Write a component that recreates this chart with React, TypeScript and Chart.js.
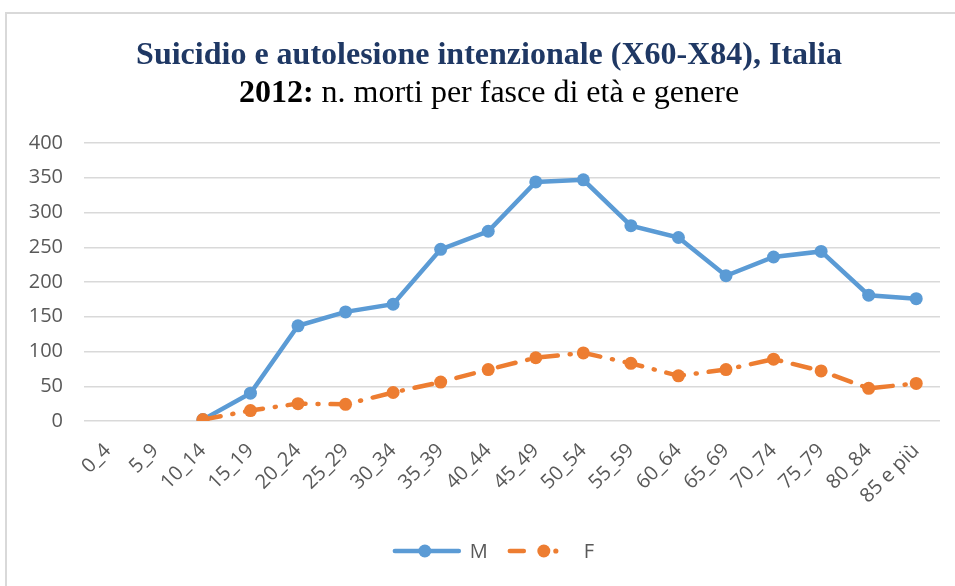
import React, { useEffect, useRef } from "react";
import { Chart, registerables } from "chart.js";

Chart.register(...registerables);

const categories = ["0_4", "5_9", "10_14", "15_19", "20_24", "25_29", "30_34", "35_39", "40_44", "45_49", "50_54", "55_59", "60_64", "65_69", "70_74", "75_79", "80_84", "85 e più"];
const maschi = [null, null, 2, 40, 137, 157, 168, 247, 273, 344, 347, 281, 264, 209, 236, 244, 181, 176];
const femmine = [null, null, 2, 15, 25, 24, 41, 56, 74, 91, 98, 83, 65, 74, 89, 72, 47, 54];
const yTicks = [0, 50, 100, 150, 200, 250, 300, 350, 400];
const seriesNames = ["M", "F"];
const titleLine1 = "Suicidio e autolesione intenzionale (X60-X84), Italia";
const titleBold = "2012:";
const titleRest = " n. morti per fasce di età e genere";

const BLUE = "#5B9BD5";
const ORANGE = "#ED7D31";
const DASH = [18, 12, 1, 12];

function drawIcon(g: CanvasRenderingContext2D, kind: number, x: number, y: number) {
  g.save();
  g.lineCap = "round";
  g.lineWidth = 4.5;
  if (kind === 0) {
    g.strokeStyle = BLUE;
    g.fillStyle = BLUE;
    g.beginPath();
    g.moveTo(x + 3, y);
    g.lineTo(x + 67, y);
    g.stroke();
    g.beginPath();
    g.arc(x + 33, y, 6.5, 0, Math.PI * 2);
    g.fill();
  } else {
    g.strokeStyle = ORANGE;
    g.fillStyle = ORANGE;
    g.beginPath();
    g.moveTo(x + 4, y);
    g.lineTo(x + 18, y);
    g.stroke();
    g.beginPath();
    g.arc(x + 38, y, 6.5, 0, Math.PI * 2);
    g.fill();
    g.beginPath();
    g.arc(x + 50, y, 2.6, 0, Math.PI * 2);
    g.fill();
  }
  g.restore();
}

const titlePlugin = {
  id: "twoLineTitle",
  afterDraw(chart: any) {
    const ctx = chart.ctx as CanvasRenderingContext2D;
    const cx = 489;
    ctx.save();
    ctx.textBaseline = "alphabetic";
    ctx.textAlign = "left";
    ctx.font = "bold 32px 'Liberation Serif'";
    ctx.fillStyle = "#1F3864";
    const w1 = ctx.measureText(titleLine1).width;
    ctx.fillText(titleLine1, cx - w1 / 2, 64);
    ctx.font = "bold 32px 'Liberation Serif'";
    const wb = ctx.measureText(titleBold).width;
    ctx.font = "32px 'Liberation Serif'";
    const wr = ctx.measureText(titleRest).width;
    const x0 = cx - (wb + wr) / 2;
    ctx.fillStyle = "#000000";
    ctx.font = "bold 32px 'Liberation Serif'";
    ctx.fillText(titleBold, x0, 102);
    ctx.font = "32px 'Liberation Serif'";
    ctx.fillText(titleRest, x0 + wb, 102);
    ctx.restore();
  },
};

const legendPlugin = {
  id: "lineLegend",
  afterDraw(chart: any) {
    const ctx = chart.ctx as CanvasRenderingContext2D;
    const names: string[] = chart.data.datasets.map((d: any) => d.label);
    ctx.save();
    ctx.font = "20px 'Open Sans'";
    ctx.fillStyle = "#595959";
    ctx.textBaseline = "middle";
    ctx.textAlign = "left";
    const iconW = 70;
    const textGap = 8;
    const itemGap = 18;
    const widths = names.map((n) => ctx.measureText(n).width);
    const total = widths.reduce((a, w) => a + iconW + textGap + w, 0) + itemGap * (names.length - 1);
    let x = 493 - total / 2;
    const y = chart.chartArea.bottom + 130;
    names.forEach((n, i) => {
      drawIcon(ctx, i, x, y);
      ctx.fillText(n, x + iconW + textGap, y + 1);
      x += iconW + textGap + widths[i] + itemGap;
    });
    ctx.restore();
  },
};

export default function App() {
  const ref = useRef<HTMLCanvasElement>(null);
  useEffect(() => {
    if (!ref.current) return;
    const chart = new Chart(ref.current, {
      type: "line",
      data: {
        labels: categories,
        datasets: [
          {
            label: seriesNames[0],
            data: maschi,
            borderColor: BLUE,
            backgroundColor: BLUE,
            borderWidth: 4.5,
            pointRadius: 6.5,
            pointHoverRadius: 6.5,
            pointBorderWidth: 0,
            tension: 0,
            order: 2,
          },
          {
            label: seriesNames[1],
            data: femmine,
            borderColor: ORANGE,
            backgroundColor: ORANGE,
            borderWidth: 4.5,
            borderDash: DASH,
            borderCapStyle: "round",
            pointRadius: 6.5,
            pointHoverRadius: 6.5,
            pointBorderWidth: 0,
            tension: 0,
            order: 1,
          },
        ],
      },
      options: {
        animation: false,
        responsive: false,
        maintainAspectRatio: false,
        layout: { padding: { top: 143, left: 0, right: 15, bottom: 54 } },
        plugins: {
          title: { display: false },
          tooltip: { enabled: false },
          legend: { display: false },
        },
        scales: {
          x: {
            grid: { display: false, drawTicks: false },
            border: { display: false },
            offset: true,
            afterFit: (s: any) => {
              s.height = 111;
            },
            ticks: {
              minRotation: 45,
              maxRotation: 45,
              autoSkip: false,
              padding: 18,
              color: "#595959",
              font: { family: "'Open Sans'", size: 20 },
            },
          },
          y: {
            min: 0,
            max: 400,
            afterFit: (s: any) => {
              s.width = 84;
            },
            afterBuildTicks: (s: any) => {
              s.ticks = yTicks.map((v) => ({ value: v }));
            },
            grid: { color: "#D9D9D9", lineWidth: 1.5, drawTicks: false },
            border: { display: false },
            ticks: {
              padding: 21,
              color: "#595959",
              font: { family: "'Open Sans'", size: 20 },
            },
          },
        },
      },
      plugins: [titlePlugin, legendPlugin],
    });
    return () => chart.destroy();
  }, []);
  return (
    <div style={{ position: "absolute", left: 0, top: 0, width: 955, height: 586, background: "#fff", overflow: "hidden" }}>
      <div
        style={{
          position: "absolute",
          left: 5,
          top: 12,
          width: 1000,
          height: 1000,
          borderTop: "2px solid #D9D9D9",
          borderLeft: "2px solid #D9D9D9",
        }}
      />
      <canvas ref={ref} width={955} height={586} style={{ position: "absolute", left: 0, top: 0 }} />
    </div>
  );
}
